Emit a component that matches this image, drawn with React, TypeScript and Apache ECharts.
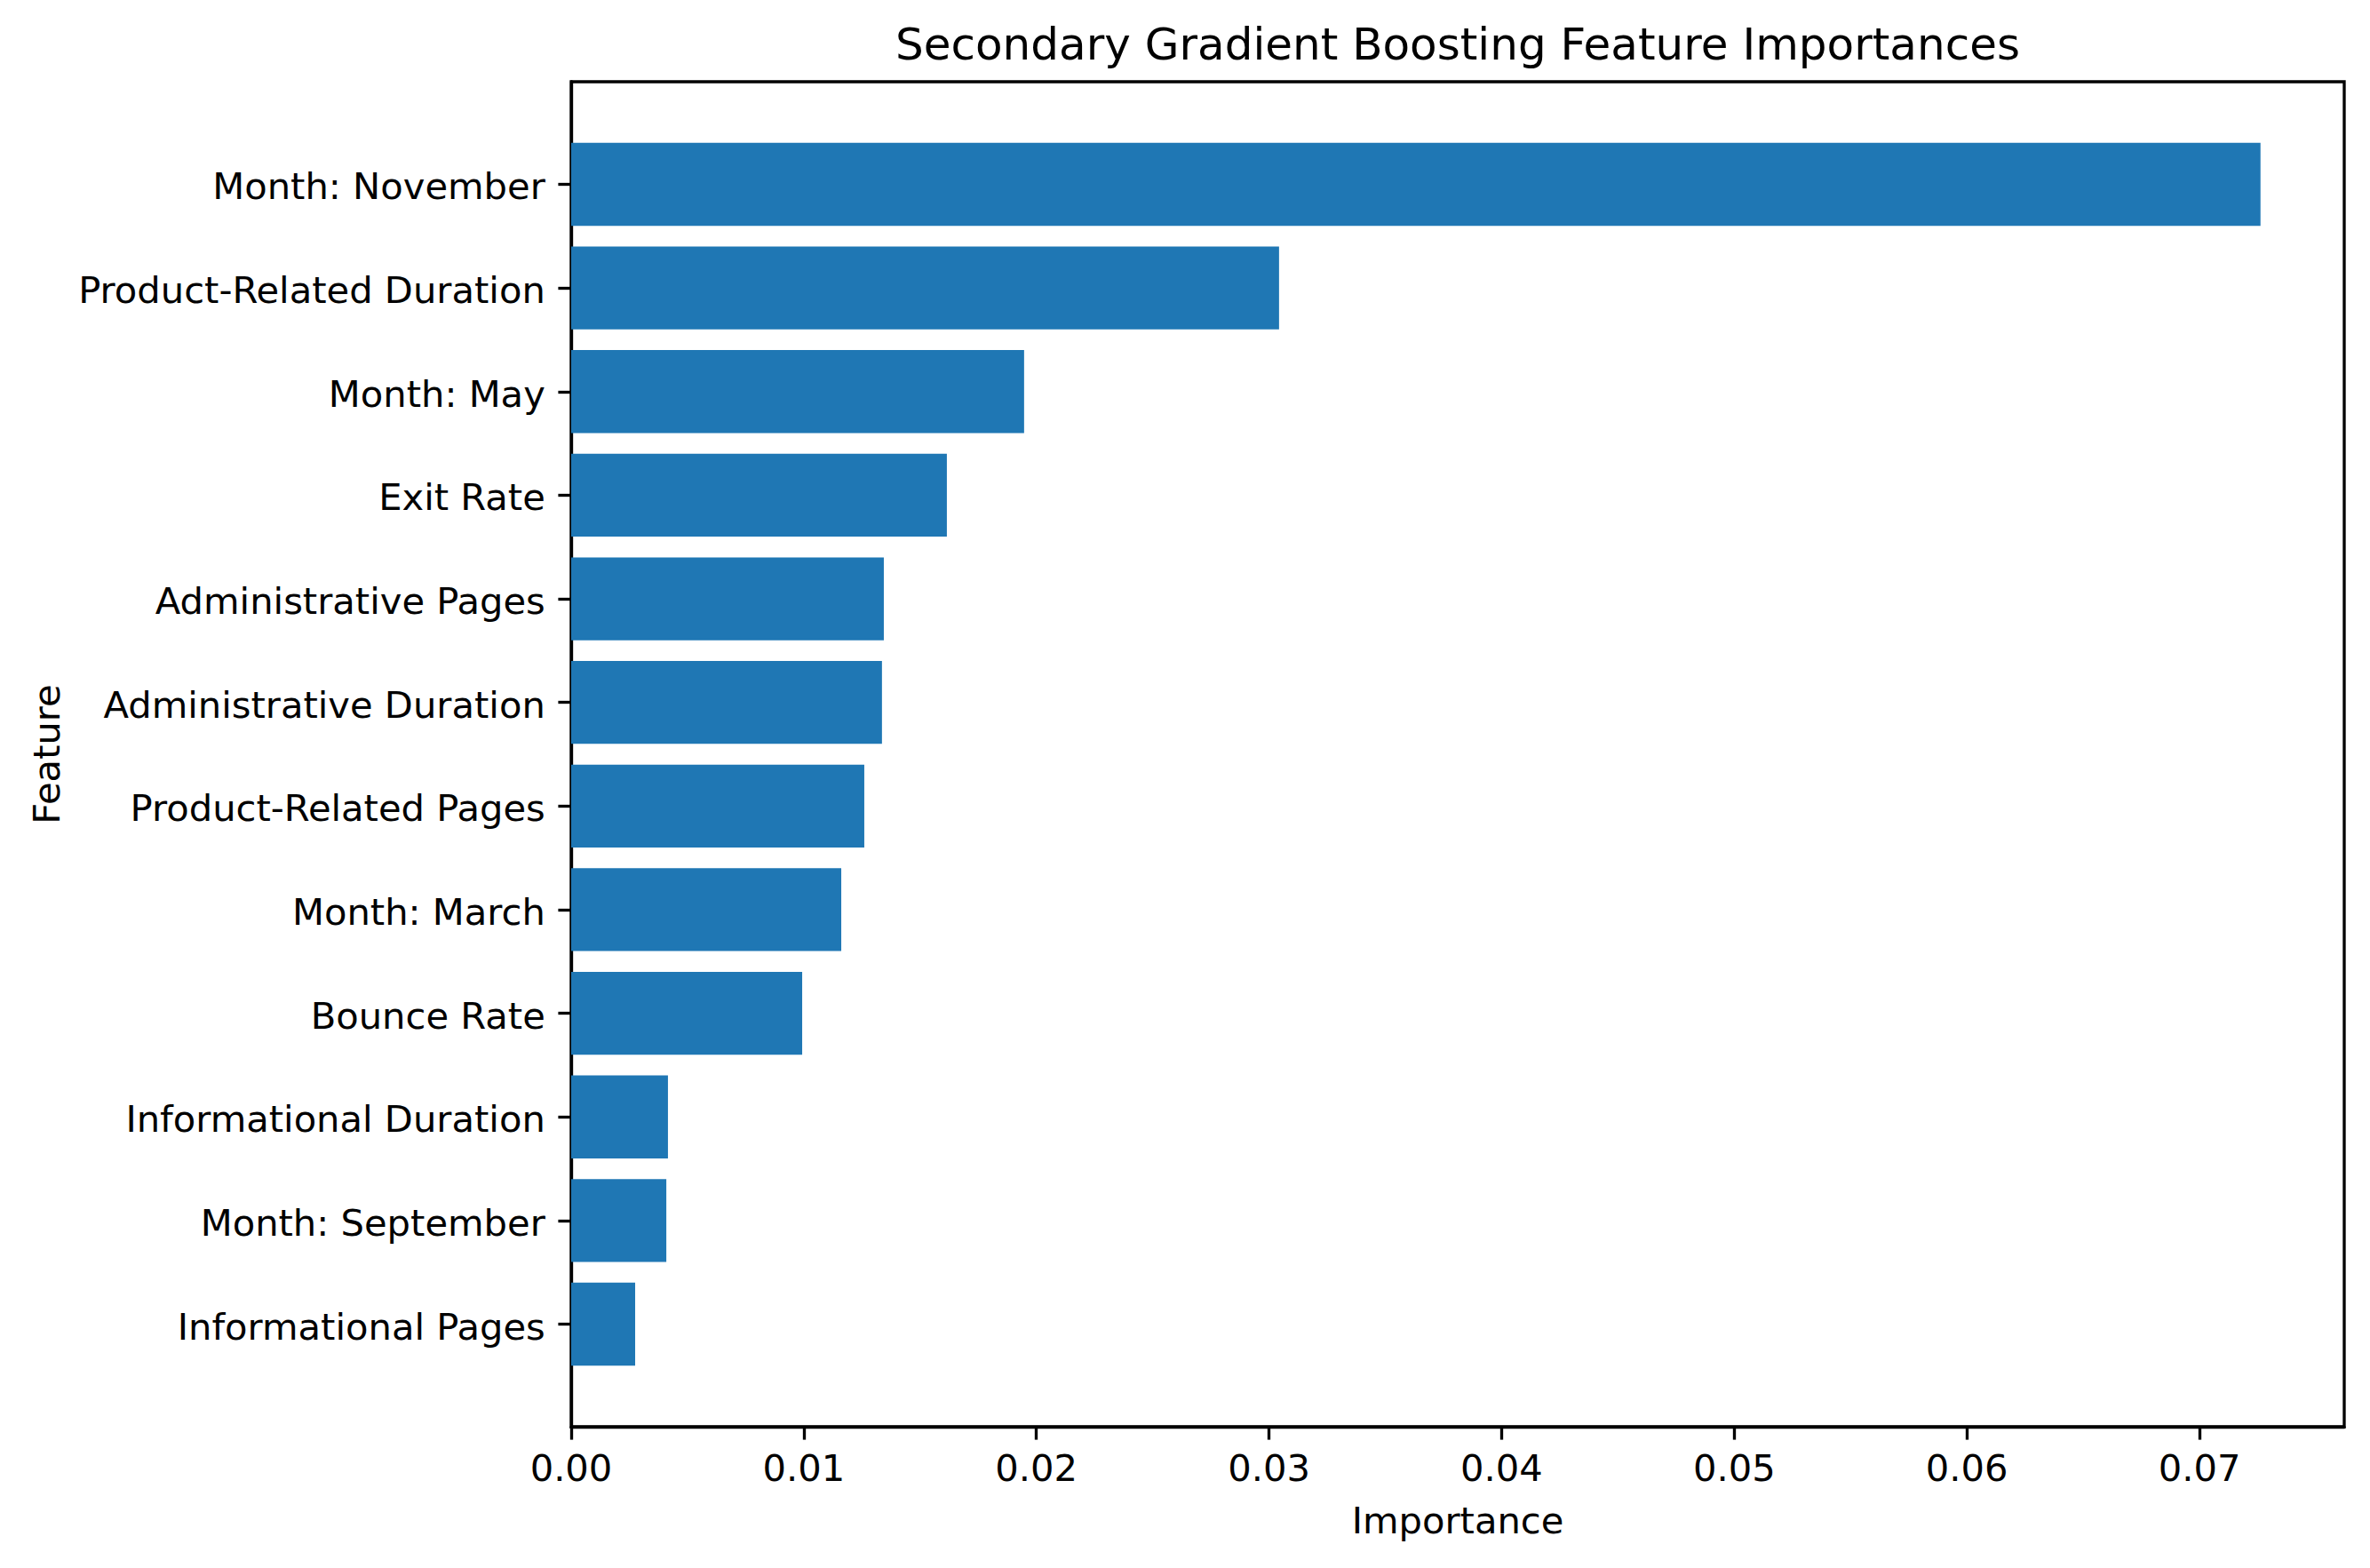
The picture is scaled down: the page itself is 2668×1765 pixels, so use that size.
import React, { useEffect, useRef } from "react";
import * as echarts from "echarts";

const features = [
  "Month: November",
  "Product-Related Duration",
  "Month: May",
  "Exit Rate",
  "Administrative Pages",
  "Administrative Duration",
  "Product-Related Pages",
  "Month: March",
  "Bounce Rate",
  "Informational Duration",
  "Month: September",
  "Informational Pages",
];
const importances = [
  0.07262, 0.03043, 0.01947, 0.01615, 0.01344, 0.01336, 0.0126, 0.01161,
  0.00993, 0.00416, 0.00409, 0.00275,
];
const xTicks = [0, 0.01, 0.02, 0.03, 0.04, 0.05, 0.06, 0.07];

const FONT = "DejaVu Sans";

export default function App() {
  const ref = useRef<HTMLDivElement>(null);
  useEffect(() => {
    if (!ref.current) return;
    const chart = echarts.init(ref.current, null, { renderer: "svg" });
    const yIdx = features.map((_, i) => i);
    chart.setOption({
      animation: false,
      backgroundColor: "#ffffff",
      grid: {
        left: 643,
        top: 92,
        width: 1996,
        height: 1514,
        show: true,
        borderColor: "#000",
        borderWidth: 3.33,
        containLabel: false,
      },
      xAxis: {
        type: "value",
        min: 0,
        max: 0.07622,
        axisLine: { show: true, onZero: false, lineStyle: { color: "#000", width: 3.33 } },
        axisTick: {
          show: true,
          length: 14.6,
          customValues: xTicks,
          lineStyle: { color: "#000", width: 3.33 },
        },
        axisLabel: {
          customValues: xTicks,
          formatter: (v: number) => v.toFixed(2),
          fontFamily: FONT,
          fontSize: 41.67,
          color: "#000",
          margin: 25,
        },
        splitLine: { show: false },
      },
      yAxis: {
        type: "value",
        min: -0.99,
        max: 11.99,
        inverse: true,
        axisLine: { show: true, onZero: false, lineStyle: { color: "#000", width: 3.33 } },
        axisTick: {
          show: true,
          length: 14.6,
          customValues: yIdx,
          lineStyle: { color: "#000", width: 3.33 },
        },
        axisLabel: {
          customValues: yIdx,
          formatter: (v: number) => "{a|" + (features[Math.round(v)] ?? "") + "}",
          fontFamily: FONT,
          fontSize: 41.67,
          color: "#000",
          margin: 29.2,
          rich: {
            a: {
              fontFamily: FONT,
              fontSize: 41.67,
              color: "#000",
              padding: [5, 0, 0, 0],
            },
          },
        },
        splitLine: { show: false },
      },
      series: [
        {
          type: "custom",
          data: importances.map((v, i) => [v, i]),
          encode: { x: 0, y: 1 },
          renderItem: (params: any, api: any) => {
            const val = api.value(0);
            const idx = api.value(1);
            const p0 = api.coord([0, idx]);
            const p1 = api.coord([val, idx]);
            const h = Math.abs(api.size([0, 0.8])[1]);
            return {
              type: "rect",
              shape: { x: p0[0], y: p0[1] - h / 2, width: p1[0] - p0[0], height: h },
              style: { fill: "#1f77b4" },
            };
          },
        },
      ],
      graphic: [
        {
          type: "text",
          x: 1641,
          y: 50,
          style: {
            text: "Secondary Gradient Boosting Feature Importances",
            font: `50px "${FONT}"`,
            fill: "#000",
            align: "center",
            verticalAlign: "middle",
          },
        },
        {
          type: "text",
          x: 1641,
          y: 1711,
          style: {
            text: "Importance",
            font: `41.67px "${FONT}"`,
            fill: "#000",
            align: "center",
            verticalAlign: "middle",
          },
        },
        {
          type: "text",
          x: 52,
          y: 849,
          rotation: Math.PI / 2,
          style: {
            text: "Feature",
            font: `41.67px "${FONT}"`,
            fill: "#000",
            align: "center",
            verticalAlign: "middle",
          },
        },
      ],
    });
    return () => chart.dispose();
  }, []);
  return (
    <div
      ref={ref}
      style={{ position: "absolute", left: 0, top: 0, width: 2668, height: 1765 }}
    />
  );
}
